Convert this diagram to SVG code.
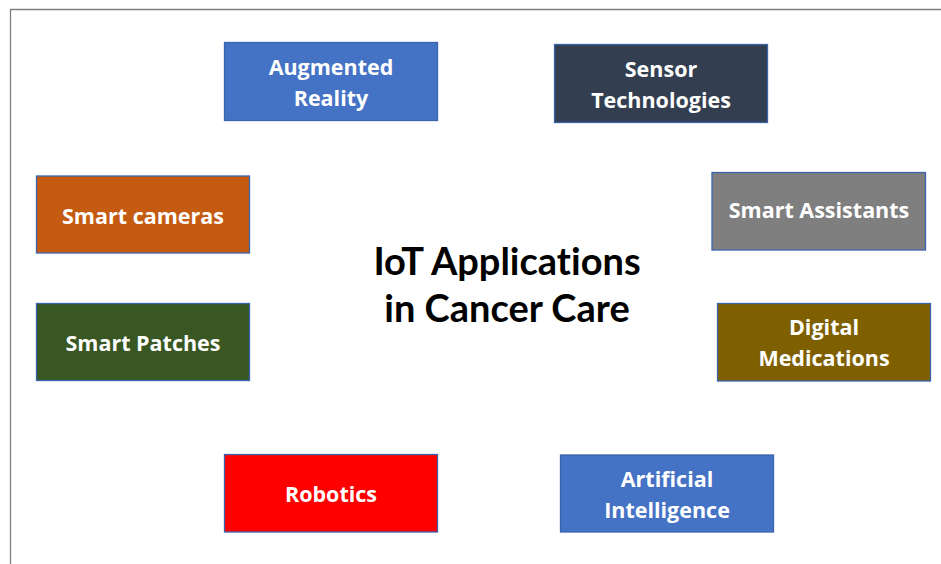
<svg xmlns="http://www.w3.org/2000/svg" width="941" height="564" viewBox="0 0 941 564">
<style>
.box{stroke:#3B64AD;stroke-width:1.3}
.t{font-family:"Open Sans",Lato,"Liberation Sans",sans-serif;font-weight:700;font-size:21.5px;fill:#fff;text-anchor:middle;font-variant-ligatures:none}
.title{font-family:Lato,"Open Sans","Liberation Sans",sans-serif;font-weight:700;font-size:38px;fill:#000;text-anchor:middle;font-variant-ligatures:none}
</style>
<rect width="941" height="564" fill="#fff"/>
<g id="frame"><path d="M10.5 564 V9.5 H941" fill="none" stroke="#7f7f7f" stroke-width="1.3"/></g>
<g id="center"><text class="title" x="507" y="274.5">IoT Applications</text><text class="title" x="507" y="322">in Cancer Care</text></g>
<g id="augmented-reality"><rect class="box" x="224.5" y="42.5" width="213" height="78" fill="#4472C4"/><text class="t" x="331" y="74.5">Augmented</text><text class="t" x="331" y="105.5">Reality</text></g>
<g id="sensor-technologies"><rect class="box" x="554.5" y="44.5" width="213" height="78" fill="#333F50"/><text class="t" x="661" y="77">Sensor</text><text class="t" x="661" y="107.5">Technologies</text></g>
<g id="smart-cameras"><rect class="box" x="36.5" y="176" width="213" height="77" fill="#C55A11"/><text class="t" x="143" y="223.5">Smart cameras</text></g>
<g id="smart-patches"><rect class="box" x="36.5" y="303.5" width="213" height="77" fill="#385723"/><text class="t" x="143" y="351">Smart Patches</text></g>
<g id="smart-assistants"><rect class="box" x="712" y="172.5" width="213.5" height="77.5" fill="#7F7F7F"/><text class="t" x="819" y="217.5">Smart Assistants</text></g>
<g id="digital-medications"><rect class="box" x="717.5" y="303.5" width="213" height="77.5" fill="#7F6000"/><text class="t" x="824" y="334.5">Digital</text><text class="t" x="824" y="365.5">Medications</text></g>
<g id="robotics"><rect class="box" x="224.5" y="454.5" width="213" height="77.5" fill="#FF0000"/><text class="t" x="331" y="501.5">Robotics</text></g>
<g id="artificial-intelligence"><rect class="box" x="560.5" y="455" width="213" height="77" fill="#4472C4"/><text class="t" x="667" y="486.5">Artificial</text><text class="t" x="667" y="517.5">Intelligence</text></g>
<g id="connectors"></g>
</svg>
